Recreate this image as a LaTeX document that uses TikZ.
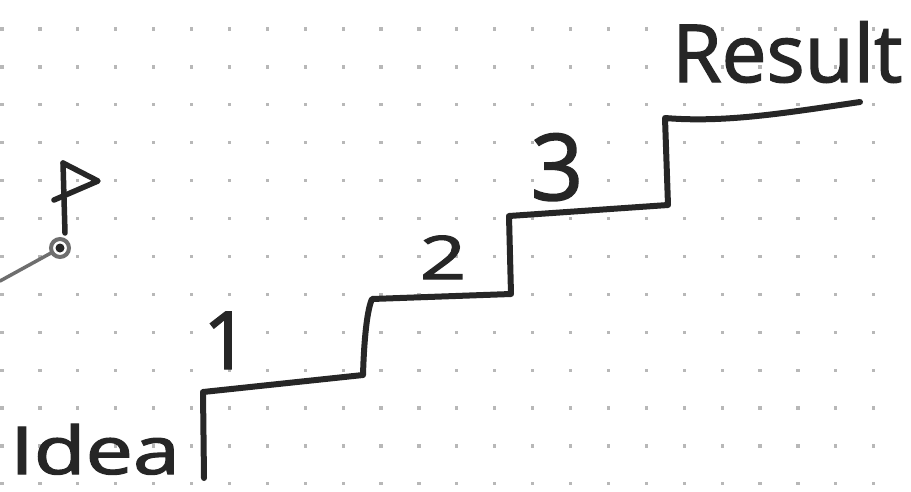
\documentclass[tikz,border=0pt]{standalone}
\usepackage{fontspec}
\setmainfont{Open Sans}
\newfontfamily\handfont[FakeBold=1.8]{Open Sans}
\definecolor{ink}{HTML}{262626}
\definecolor{pencil}{HTML}{6E6E6E}
\definecolor{dotgray}{HTML}{B8B8B8}
\tikzset{
  stair/.style={draw=ink, line width=6pt, line join=round, line cap=round},
  flagline/.style={draw=ink, line width=5.5pt, line join=round, line cap=round},
  pinline/.style={draw=pencil, line width=3.5pt, line cap=round},
  hand/.style={text=ink, inner sep=0pt},
}
\begin{document}
\begin{tikzpicture}[x=1pt, y=-1pt]
  % page and dotted grid
  \useasboundingbox (0,0) rectangle (911,491);
  \fill[white] (0,0) rectangle (911,491);
  \foreach \i in {0,...,23}
    \foreach \j in {0,...,12}
      \fill[dotgray] ({2+37.9*\i-1.6},{29+37.9*\j-1.6}) rectangle ++(3.2,3.2);

  % staircase corners
  \coordinate (s0) at (204,478);
  \coordinate (c1) at (203,392);
  \coordinate (b2) at (363,375);
  \coordinate (c2) at (372,299);
  \coordinate (b3) at (511,294);
  \coordinate (c3) at (509,216);
  \coordinate (b4) at (668,205);
  \coordinate (c4) at (665,118);
  \coordinate (top) at (860,102);

  \draw[stair] (s0) -- (c1) -- (b2)
    .. controls (364,340) and (367,310) .. (c2)
    -- (b3) -- (c3) -- (b4) -- (c4)
    .. controls (725,123) and (785,113) .. (top);

  % labels
  \node[hand, anchor=base west, font=\handfont\fontsize{66}{66}\selectfont] (idea) at (10,474) {\scalebox{1.28}[1]{Idea}};
  \node[hand, anchor=base west, font=\handfont\fontsize{80}{80}\selectfont] (result) at (672,82) {Result};
  \node[hand, anchor=base, font=\handfont\fontsize{80}{80}\selectfont] (one) at (226,369) {1};
  \node[hand, anchor=base, font=\handfont\fontsize{60}{60}\selectfont] (two) at (443,279) {\scalebox{1.35}[1]{2}};
  \node[hand, anchor=base, font=\handfont\fontsize{92}{92}\selectfont] (three) at (557,200) {3};

  % flag
  \coordinate (pt) at (63,163);
  \coordinate (pb) at (65,233);
  \coordinate (ft) at (98,181);
  \coordinate (fb) at (54,200);
  \draw[flagline] (pt) -- (pb);
  \draw[flagline] (pt) -- (ft) -- (fb);

  % pin with its string
  \coordinate (pin) at (60,248);
  \coordinate (tail) at (0,281);
  \draw[pencil, line width=4pt] (pin) circle (9);
  \fill[ink] (pin) circle (4.5);
  \draw[pinline] (51,253) -- (tail);
\end{tikzpicture}
\end{document}
